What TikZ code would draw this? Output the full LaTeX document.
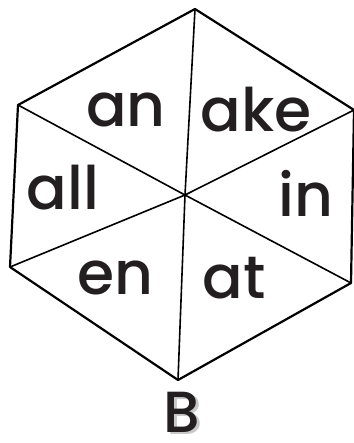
\documentclass[tikz,border=0pt]{standalone}
\usepackage{fontspec}
\setmainfont{Poppins}
\newfontfamily\wordfont{Poppins Medium}
\usepackage{tikz}
\definecolor{inkDark}{RGB}{35, 31, 32}
\definecolor{shadowGray}{RGB}{200, 200, 200}

\tikzset{
  rim/.style={line width=2.2pt, line join=round},
  spoke/.style={line width=1.6pt},
  word/.style={inner sep=0pt, text=inkDark, font=\wordfont\fontsize{60}{60}\selectfont},
  mark letter/.style={inner sep=0pt, anchor=base, font=\wordfont\fontsize{58}{58}\selectfont}
}

\begin{document}
\begin{tikzpicture}[x=1pt, y=-1pt]
        \useasboundingbox (0,0) rectangle (353,443);
        % corners of the hexagon
        \coordinate (top) at (195,9);
        \coordinate (upleft) at (18,105);
        \coordinate (lowleft) at (10,267);
        \coordinate (bottom) at (178,380);
        \coordinate (lowright) at (351,283);
        \coordinate (upright) at (354,110);
        \coordinate (hub) at (185,195);
        \draw[rim] (top) -- (upleft) -- (lowleft) -- (bottom) -- (lowright) -- (upright) -- cycle;
        \foreach \c in {top, upleft, lowleft, bottom, lowright, upright}
          \draw[spoke] (hub) -- (\c);
        % word endings
        \node[word] (an) at (126,110) {an};
        \node[word] (ake) at (256,110) {ake};
        \node[word] (all) at (63,188) {all};
        \node[word] (in) at (306,193) {in};
        \node[word] (en) at (115,278) {en};
        \node[word] (at) at (234,278) {at};
        % label under the hexagon
        \node[mark letter, text=shadowGray] at (184.5,434.5) {B};
        \node[mark letter, text=inkDark] (lbl) at (182,432) {B};
      \end{tikzpicture}
\end{document}
